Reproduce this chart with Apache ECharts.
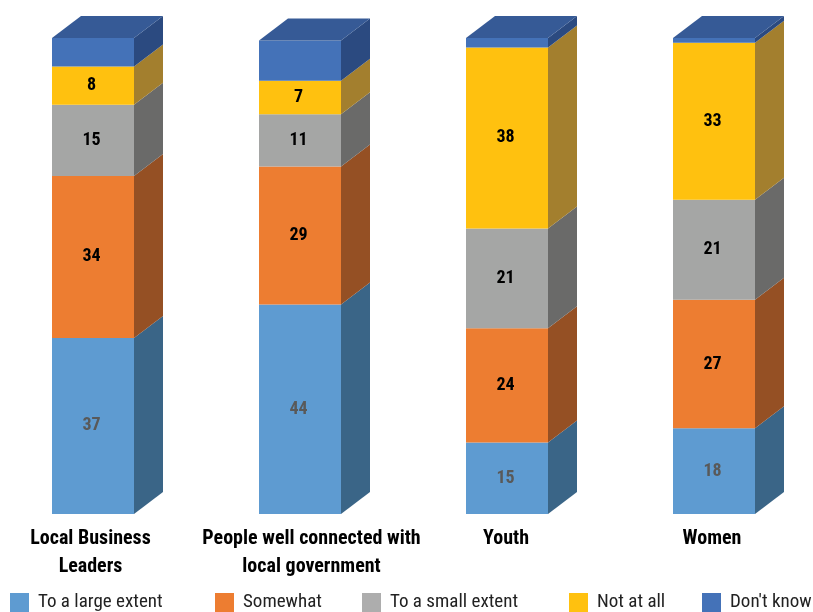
<!DOCTYPE html>
<html>
<head>
<meta charset="utf-8">
<style>html,body{margin:0;padding:0;background:#fff}#chart{width:813px;height:612px}</style>
<script src="https://cdn.jsdelivr.net/npm/echarts@6/dist/echarts.min.js"></script>
</head>
<body>
<div id="chart"></div>
<script>
const categories = ['Local Business\nLeaders', 'People well connected with\nlocal government', 'Youth', 'Women'];
const largeExtent = [37, 44, 15, 18];
const somewhat = [34, 29, 24, 27];
const smallExtent = [15, 11, 21, 21];
const notAtAll = [8, 7, 38, 33];
const dontKnow = [6, 8.5, 2, 1];

const layers = [
  { name: 'To a large extent', values: largeExtent, front: '#5E9BD1', side: '#3A6587', label: '#595959', legendLeft: 10 },
  { name: 'Somewhat', values: somewhat, front: '#ED7D31', side: '#955024', label: '#000', legendLeft: 215 },
  { name: 'To a small extent', values: smallExtent, front: '#A5A6A5', side: '#6A6A69', label: '#000', swatch: '#ADADAD', legendLeft: 362 },
  { name: 'Not at all', values: notAtAll, front: '#FFC10F', side: '#A37F2E', label: '#000', legendLeft: 569 },
  { name: "Don't know", values: dontKnow, front: '#4472B8', side: '#2B4A80', top: '#365A96', legendLeft: 702 }
];

// Horizontal nudge of each category caption, as CSS-order padding.
const captionPadding = [[0, 5, 0, 0], [0, 0, 0, 23], [0, 2, 0, 0], [0, 4, 0, 0]];

const FONT = '"Roboto Condensed", "Open Sans Condensed", sans-serif';
const BAR_WIDTH = 82;
const DEPTH_X = 29;
const DEPTH_Y = 22;

// Draws one stacked segment as a front face, a receding side and, on the last layer, a lid.
function drawSegment(layer) {
  return function (params, api) {
    const centre = api.coord([api.value(0), api.value(1)]);
    const upper = api.coord([api.value(0), api.value(2)]);
    const x0 = centre[0] - BAR_WIDTH / 2;
    const x1 = x0 + BAR_WIDTH;
    const yBase = centre[1];
    const yTop = upper[1];
    const children = [
      {
        type: 'polygon',
        shape: { points: [[x1, yBase], [x1 + DEPTH_X, yBase - DEPTH_Y], [x1 + DEPTH_X, yTop - DEPTH_Y], [x1, yTop]] },
        style: { fill: layer.side }
      },
      {
        type: 'rect',
        shape: { x: x0, y: yTop, width: BAR_WIDTH, height: yBase - yTop },
        style: { fill: layer.front }
      }
    ];
    if (layer.top) {
      children.push({
        type: 'polygon',
        shape: { points: [[x0, yTop], [x0 + DEPTH_X, yTop - DEPTH_Y], [x1 + DEPTH_X, yTop - DEPTH_Y], [x1, yTop]] },
        style: { fill: layer.top }
      });
    }
    if (layer.label) {
      children.push({
        type: 'text',
        x: centre[0] - 1.5,
        y: (yBase + yTop) / 2,
        style: {
          text: String(api.value(3)),
          fill: layer.label,
          font: 'bold 18px ' + FONT,
          align: 'center',
          verticalAlign: 'middle'
        }
      });
    }
    return { type: 'group', children };
  };
}

const running = categories.map(() => 0);
const series = layers.map(layer => ({
  type: 'custom',
  name: layer.name,
  itemStyle: { color: layer.front },
  renderItem: drawSegment(layer),
  data: layer.values.map((v, i) => {
    const base = running[i];
    running[i] += v;
    return [i, base, running[i], v];
  }),
  encode: { x: 0, y: [1, 2] }
}));

const chart = echarts.init(document.getElementById('chart'), null, { renderer: 'canvas' });
chart.setOption({
  animation: false,
  backgroundColor: '#fff',
  grid: { left: 93, top: 38, width: 621, height: 476 },
  xAxis: {
    type: 'category',
    data: categories.map((value, i) => ({ value, textStyle: { padding: captionPadding[i] } })),
    boundaryGap: false,
    axisLine: { show: false },
    axisTick: { show: false },
    axisLabel: {
      margin: 11,
      interval: 0,
      hideOverlap: false,
      color: '#000',
      fontFamily: FONT,
      fontWeight: 'bold',
      fontSize: 20,
      lineHeight: 28
    }
  },
  yAxis: { type: 'value', min: 0, max: 100, show: false },
  legend: layers.map(layer => ({
    data: [{ name: layer.name, icon: 'rect', itemStyle: { color: layer.swatch || layer.front } }],
    left: layer.legendLeft,
    top: 593,
    padding: 0,
    itemWidth: 19,
    itemHeight: 19,
    itemGap: 0,
    textStyle: { fontFamily: FONT, fontSize: 19, color: '#222', padding: [0, 0, 0, 4] }
  })),
  series
});
</script>
</body>
</html>
